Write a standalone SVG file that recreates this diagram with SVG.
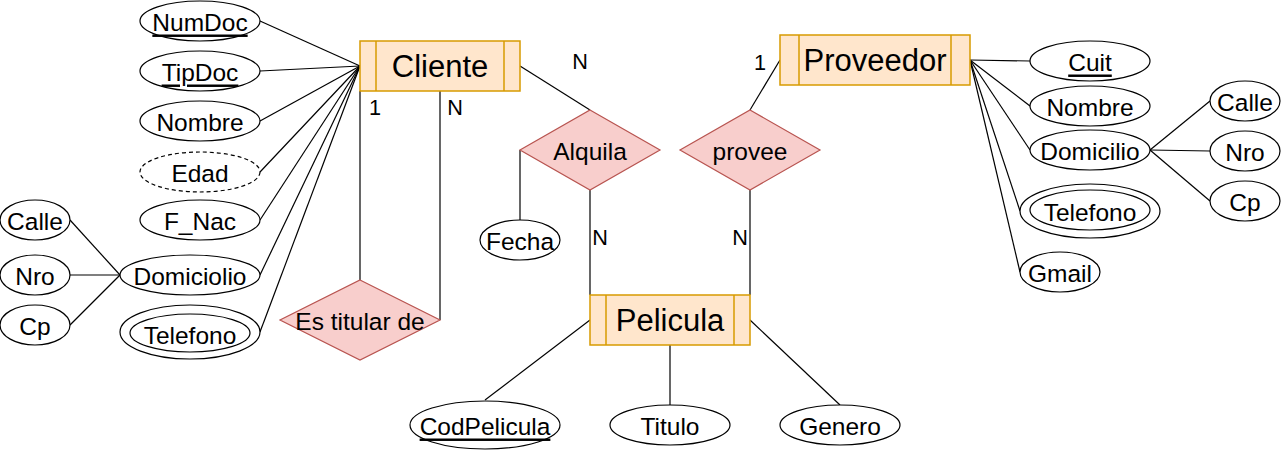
<svg xmlns="http://www.w3.org/2000/svg" width="1281" height="451" viewBox="0 0 1281 451">
<style>
text{font-family:"Liberation Sans",Arial,Helvetica,sans-serif;fill:#000;text-anchor:middle;dominant-baseline:central}
.at{font-size:24.5px}
.en{font-size:31px}
.cd{font-size:21.7px}
.attr{fill:#fff;stroke:#000;stroke-width:1.2}
.dash{stroke-dasharray:4 3}
.ent{fill:#ffe6cc;stroke:#d79b00;stroke-width:1.5}
.rel{fill:#f8cecc;stroke:#b85450;stroke-width:1.2}
.ln{fill:none;stroke:#000;stroke-width:1.2}
.u{text-decoration:underline}
</style>
<rect width="1281" height="451" fill="#fff"/>
<g id="connectors" class="ln">
<line x1="260" y1="21" x2="360" y2="66"/>
<line x1="260" y1="71" x2="360" y2="66"/>
<line x1="260" y1="121" x2="360" y2="66"/>
<line x1="260" y1="172" x2="360" y2="66"/>
<line x1="260" y1="220" x2="360" y2="66"/>
<line x1="260" y1="275" x2="360" y2="66"/>
<line x1="260" y1="332" x2="360" y2="66"/>
<line x1="70" y1="220" x2="120" y2="275"/>
<line x1="70" y1="275" x2="120" y2="275"/>
<line x1="70" y1="325" x2="120" y2="275"/>
<line x1="360" y1="91" x2="360" y2="280"/>
<line x1="440" y1="91" x2="440" y2="320"/>
<line x1="520" y1="66" x2="590" y2="110"/>
<line x1="520" y1="150" x2="520" y2="220"/>
<line x1="590" y1="190" x2="590" y2="295"/>
<line x1="750" y1="110" x2="780" y2="60"/>
<line x1="750" y1="190" x2="750" y2="295"/>
<line x1="590" y1="320" x2="485" y2="400"/>
<line x1="670" y1="345" x2="670" y2="405"/>
<line x1="750" y1="320" x2="840" y2="405"/>
<line x1="970" y1="60" x2="1030" y2="61"/>
<line x1="970" y1="60" x2="1030" y2="106"/>
<line x1="970" y1="60" x2="1030" y2="150"/>
<line x1="970" y1="60" x2="1020" y2="211"/>
<line x1="970" y1="60" x2="1020" y2="272"/>
<line x1="1150" y1="150" x2="1210" y2="101"/>
<line x1="1150" y1="150" x2="1210" y2="151"/>
<line x1="1150" y1="150" x2="1210" y2="201"/>
</g>
<g id="labels">
<text class="cd" x="375" y="107">1</text>
<text class="cd" x="455" y="107">N</text>
<text class="cd" x="580" y="61">N</text>
<text class="cd" x="760" y="62">1</text>
<text class="cd" x="600" y="237">N</text>
<text class="cd" x="740" y="237">N</text>
</g>
<g id="cliente">
<rect class="ent" x="360" y="41" width="160" height="50"/>
<line class="ent" x1="376" y1="41" x2="376" y2="91"/>
<line class="ent" x1="504" y1="41" x2="504" y2="91"/>
<text class="en" x="440" y="66">Cliente</text>
</g>
<g id="proveedor">
<rect class="ent" x="780" y="35" width="190" height="50"/>
<line class="ent" x1="799" y1="35" x2="799" y2="85"/>
<line class="ent" x1="951" y1="35" x2="951" y2="85"/>
<text class="en" x="875" y="60">Proveedor</text>
</g>
<g id="pelicula">
<rect class="ent" x="590" y="295" width="160" height="50"/>
<line class="ent" x1="606" y1="295" x2="606" y2="345"/>
<line class="ent" x1="734" y1="295" x2="734" y2="345"/>
<text class="en" x="670" y="320">Pelicula</text>
</g>
<g id="alquila">
<polygon class="rel" points="590,110 660,150 590,190 520,150"/>
<text class="at" x="590" y="151">Alquila</text>
</g>
<g id="provee">
<polygon class="rel" points="750,110 820,150 750,190 680,150"/>
<text class="at" x="750" y="151">provee</text>
</g>
<g id="es-titular">
<polygon class="rel" points="360,280 440,320 360,360 280,320"/>
<text class="at" x="360" y="321">Es titular de</text>
</g>
<g id="numdoc"><ellipse class="attr" cx="200" cy="21" rx="60" ry="20"/><text class="at u" x="200" y="22">NumDoc</text></g>
<g id="tipdoc"><ellipse class="attr" cx="200" cy="71" rx="60" ry="20"/><text class="at u" x="200" y="72">TipDoc</text></g>
<g id="nombre-c"><ellipse class="attr" cx="200" cy="121" rx="60" ry="20"/><text class="at" x="200" y="122">Nombre</text></g>
<g id="edad"><ellipse class="attr dash" cx="200" cy="172" rx="60" ry="20"/><text class="at" x="200" y="173">Edad</text></g>
<g id="fnac"><ellipse class="attr" cx="200" cy="220" rx="60" ry="20"/><text class="at" x="200" y="221">F_Nac</text></g>
<g id="domiciolio"><ellipse class="attr" cx="190" cy="275" rx="70" ry="20"/><text class="at" x="190" y="276">Domiciolio</text></g>
<g id="telefono-c"><ellipse class="attr" cx="190" cy="332" rx="70" ry="27"/><ellipse class="attr" cx="190" cy="333" rx="60" ry="19"/><text class="at" x="190" y="335">Telefono</text></g>
<g id="calle-c"><ellipse class="attr" cx="35" cy="220" rx="35" ry="20"/><text class="at" x="35" y="221">Calle</text></g>
<g id="nro-c"><ellipse class="attr" cx="35" cy="275" rx="35" ry="20"/><text class="at" x="35" y="276">Nro</text></g>
<g id="cp-c"><ellipse class="attr" cx="35" cy="325" rx="35" ry="20"/><text class="at" x="35" y="326">Cp</text></g>
<g id="fecha"><ellipse class="attr" cx="520" cy="240" rx="40" ry="20"/><text class="at" x="520" y="241">Fecha</text></g>
<g id="codpelicula"><ellipse class="attr" cx="485" cy="425" rx="75" ry="24"/><text class="at u" x="485" y="426">CodPelicula</text></g>
<g id="titulo"><ellipse class="attr" cx="670" cy="425" rx="60" ry="20"/><text class="at" x="670" y="426">Titulo</text></g>
<g id="genero"><ellipse class="attr" cx="840" cy="425" rx="60" ry="20"/><text class="at" x="840" y="426">Genero</text></g>
<g id="cuit"><ellipse class="attr" cx="1090" cy="61" rx="60" ry="20"/><text class="at u" x="1090" y="62">Cuit</text></g>
<g id="nombre-p"><ellipse class="attr" cx="1090" cy="106" rx="60" ry="20"/><text class="at" x="1090" y="107">Nombre</text></g>
<g id="domicilio-p"><ellipse class="attr" cx="1090" cy="150" rx="60" ry="20"/><text class="at" x="1090" y="151">Domicilio</text></g>
<g id="telefono-p"><ellipse class="attr" cx="1090" cy="211" rx="70" ry="27"/><ellipse class="attr" cx="1090" cy="210" rx="60" ry="20"/><text class="at" x="1090" y="212">Telefono</text></g>
<g id="gmail"><ellipse class="attr" cx="1060" cy="272" rx="40" ry="20"/><text class="at" x="1060" y="273">Gmail</text></g>
<g id="calle-p"><ellipse class="attr" cx="1245" cy="101" rx="35" ry="20"/><text class="at" x="1245" y="102">Calle</text></g>
<g id="nro-p"><ellipse class="attr" cx="1245" cy="151" rx="35" ry="20"/><text class="at" x="1245" y="152">Nro</text></g>
<g id="cp-p"><ellipse class="attr" cx="1245" cy="201" rx="35" ry="20"/><text class="at" x="1245" y="202">Cp</text></g>
</svg>
